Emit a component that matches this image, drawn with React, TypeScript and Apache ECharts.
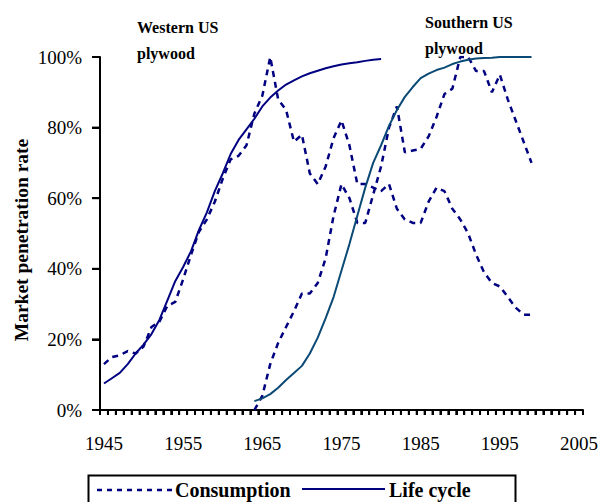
import React, { useEffect, useRef } from 'react';
import * as echarts from 'echarts';

// Categories: one per year, 1945–2005
const years: string[] = Array.from({ length: 61 }, (_, i) => String(1945 + i));

// Western US plywood
const westernStart = 1945;
const westernConsumption = [
  13, 15, 15.5, 16.7, 16, 18, 23.5, 25, 29.5, 30.6,
  37, 44, 50.5, 54, 59, 65.5, 71, 72, 75, 84,
  89, 100, 88, 85, 76, 78, 67, 64, 69, 77,
  82, 75, 64, 64, 63, 62, 64, 57, 54, 53,
  53, 59, 63, 62, 57, 54, 50, 44, 39, 36,
  35, 32, 29, 27, 27,
];
const westernLifeCycle = [
  7.5, 9, 10.5, 13, 16, 18.5, 21.5, 25.5, 31, 36.5,
  40.5, 45, 51, 56, 62, 67, 72.5, 76.5, 79.5, 82.5,
  86, 88.5, 90.5, 92.2, 93.4, 94.5, 95.4, 96.1, 96.8, 97.4,
  97.9, 98.2, 98.5, 98.9, 99.2, 99.4,
];

// Southern US plywood
const southernStart = 1964;
const southernConsumption = [
  0, 4, 13, 19, 23.5, 28, 33, 33, 36, 43,
  55, 64, 60, 53, 53, 61, 69, 80, 86, 73,
  73.5, 74, 77.5, 83, 89.5, 91, 100, 100, 96, 96,
  90, 95, 88, 82, 76, 70,
];
const southernLifeCycle = [
  2.5, 3.3, 4.5, 6.3, 8.5, 10.5, 12.5, 16, 20.5, 26,
  32, 39.5, 47, 55, 63, 70, 75, 80.5, 85, 88.7,
  91.5, 94, 95.3, 96.3, 97, 98, 98.7, 99.2, 99.6, 99.7,
  99.8, 100, 100, 100, 100, 100,
];

// Y axis tick values (percent)
const yTicks = [0, 20, 40, 60, 80, 100];
const yMin = yTicks[0];
const yMax = yTicks[yTicks.length - 1];

const SERIF = "'Liberation Serif', 'Times New Roman', serif";
const NAVY = '#000080';
const TEAL = '#0b4a75';

function align(start: number, values: number[]) {
  return years.map((y) => {
    const i = Number(y) - start;
    return i >= 0 && i < values.length ? values[i] : null;
  });
}

function axisXAndBand(api: any) {
  const c0 = api.coord([0, yMin]);
  const c1 = api.coord([1, yMin]);
  const band = c1[0] - c0[0];
  return { left: c0[0] - band / 2, band, bottom: c0[1] };
}

export default function App() {
  const ref = useRef<HTMLDivElement>(null);
  useEffect(() => {
    const chart = echarts.init(ref.current!, null, { renderer: 'svg' });
    const dashed = { color: NAVY, width: 2.5, type: [6, 5] as any };
    const tickStyle = { stroke: '#000', lineWidth: 2 };
    chart.setOption({
      animation: false,
      grid: { left: 100, right: 14, top: 57, bottom: 92 },
      xAxis: {
        type: 'category',
        data: years,
        axisLine: { lineStyle: { color: '#000', width: 2 } },
        axisTick: { show: true, interval: 0, length: 5, lineStyle: { color: '#000', width: 2 } },
        axisLabel: {
          interval: 9,
          margin: 24,
          fontSize: 19,
          fontFamily: SERIF,
          color: '#000',
        },
      },
      yAxis: {
        type: 'value',
        min: yMin,
        max: yMax,
        interval: 20,
        axisLine: { show: true, lineStyle: { color: '#000', width: 2 } },
        axisTick: { show: true, length: 8, lineStyle: { color: '#000', width: 2 } },
        axisLabel: {
          formatter: '{value}%',
          margin: 18,
          fontSize: 19,
          fontFamily: SERIF,
          color: '#000',
        },
        splitLine: { show: false },
      },
      series: [
        {
          name: 'Consumption',
          type: 'line',
          data: align(westernStart, westernConsumption),
          symbol: 'none',
          lineStyle: dashed,
        },
        {
          name: 'Life cycle',
          type: 'line',
          data: align(westernStart, westernLifeCycle),
          symbol: 'none',
          lineStyle: { color: NAVY, width: 2 },
        },
        {
          name: 'Consumption',
          type: 'line',
          data: align(southernStart, southernConsumption),
          symbol: 'none',
          lineStyle: dashed,
        },
        {
          name: 'Life cycle',
          type: 'line',
          data: align(southernStart, southernLifeCycle),
          symbol: 'none',
          lineStyle: { color: TEAL, width: 2 },
        },
        // year tick marks below the x axis (one per category boundary)
        {
          name: 'xTicks',
          type: 'custom',
          silent: true,
          clip: false,
          z: 10,
          data: years.map((_, i) => [i, yMin]),
          renderItem: (_params: any, api: any) => {
            const idx = api.value(0);
            const { band, bottom } = axisXAndBand(api);
            const c = api.coord([idx, yMin]);
            const x = c[0] - band / 2;
            const children: any[] = [
              { type: 'line', shape: { x1: x, y1: bottom, x2: x, y2: bottom + 5 }, style: tickStyle },
            ];
            if (idx === years.length - 1) {
              children.push({ type: 'line', shape: { x1: x + band, y1: bottom, x2: x + band, y2: bottom + 5 }, style: tickStyle });
            }
            return { type: 'group', children };
          },
        },
        // percent tick marks left of the y axis
        {
          name: 'yTicks',
          type: 'custom',
          silent: true,
          clip: false,
          z: 10,
          data: yTicks.map((v) => [0, v]),
          renderItem: (_params: any, api: any) => {
            const { left } = axisXAndBand(api);
            const c = api.coord([0, api.value(1)]);
            return { type: 'line', shape: { x1: left - 8, y1: c[1], x2: left, y2: c[1] }, style: tickStyle };
          },
        },
      ],
      graphic: [
        {
          type: 'text',
          x: 21,
          y: 240,
          rotation: Math.PI / 2,
          style: {
            text: 'Market penetration rate',
            font: `bold 19.5px ${SERIF}`,
            fill: '#000',
            align: 'center',
            verticalAlign: 'middle',
          },
        },
        {
          type: 'text', x: 137, y: 27,
          style: { text: 'Western US', font: `bold 16px ${SERIF}`, fill: '#000', align: 'left', verticalAlign: 'middle' },
        },
        {
          type: 'text', x: 137, y: 53,
          style: { text: 'plywood', font: `bold 16px ${SERIF}`, fill: '#000', align: 'left', verticalAlign: 'middle' },
        },
        {
          type: 'text', x: 425, y: 22,
          style: { text: 'Southern US', font: `bold 16px ${SERIF}`, fill: '#000', align: 'left', verticalAlign: 'middle' },
        },
        {
          type: 'text', x: 425, y: 48,
          style: { text: 'plywood', font: `bold 16px ${SERIF}`, fill: '#000', align: 'left', verticalAlign: 'middle' },
        },
        // legend
        {
          type: 'rect',
          shape: { x: 88.5, y: 475.5, width: 427, height: 40 },
          style: { fill: 'none', stroke: '#000', lineWidth: 2 },
        },
        {
          type: 'line',
          shape: { x1: 97, y1: 490, x2: 172, y2: 490 },
          style: { stroke: NAVY, lineWidth: 2.5, lineDash: [5, 5] },
        },
        {
          type: 'text', x: 175, y: 490,
          style: { text: 'Consumption', font: `bold 20px ${SERIF}`, fill: '#000', align: 'left', verticalAlign: 'middle' },
        },
        {
          type: 'line',
          shape: { x1: 302, y1: 489, x2: 385, y2: 489 },
          style: { stroke: NAVY, lineWidth: 2 },
        },
        {
          type: 'text', x: 389, y: 490,
          style: { text: 'Life cycle', font: `bold 20px ${SERIF}`, fill: '#000', align: 'left', verticalAlign: 'middle' },
        },
      ],
    });
    return () => chart.dispose();
  }, []);
  return (
    <div
      ref={ref}
      style={{ position: 'absolute', left: 0, top: 0, width: 601, height: 502 }}
    />
  );
}
